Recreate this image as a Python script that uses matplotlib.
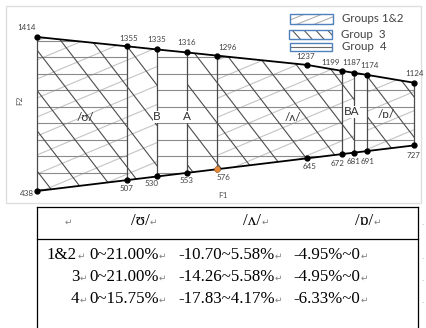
import numpy as np
import matplotlib.pyplot as plt
from matplotlib.patches import Polygon, Rectangle
from matplotlib.collections import LineCollection

# boundary values (Hz): F2 along the top edge, F1 along the bottom edge
f2_top = [1414, 1355, 1335, 1316, 1296, 1237, 1199, 1187, 1174, 1124]
f1_bot = [438, 507, 530, 553, 576, 645, 672, 681, 691, 727]
pos = [0, 3, 4, 5, 6, 9, 10.17, 10.57, 11, 12.57]
has_vline = [True, True, True, True, True, False, True, True, True, True]

# hatched spans (first index, last index into pos) for each group
spans_12 = [(0, 2), (4, 7), (8, 9)]
spans_3 = [(0, 2), (3, 7), (8, 9)]
spans_4 = [(0, 1), (2, 6), (7, 9)]

region_names = ['/ʊ/', 'B', 'A', '/ʌ/', 'BA', '/ɒ/']
legend_names = ['Groups 1&2', 'Group  3', 'Group  4']

# table
col_heads = ['', '/ʊ/', '/ʌ/', '/ɒ/']
groups = ['1&2', '3', '4']
u_range = ['0~21.00%', '0~21.00%', '0~15.75%']
a_range = ['-10.70~5.58%', '-14.26~5.58%', '-17.83~4.17%']
o_range = ['-4.95%~0', '-4.95%~0', '-6.33%~0']

sans = ['Lato', 'DejaVu Sans']
serif = ['Liberation Serif', 'DejaVu Serif', 'DejaVu Sans']

fig = plt.figure(figsize=(4.26, 3.28), dpi=100)
fig.patch.set_facecolor('white')

# overlay in pixel units for frame, table, legend and hatching
ov = fig.add_axes([0, 0, 1, 1])
ov.set_xlim(0, 426)
ov.set_ylim(328, 0)
ov.axis('off')

ax = fig.add_axes([25/426, 128/328, 395/426, 180/328])
ax.set_xlim(-0.4, 12.767)
ax.set_ylim(381, 1521.7)
ax.axis('off')


def region(i0, i1):
    top = [(pos[i], f2_top[i]) for i in range(i0, i1 + 1)]
    bot = [(pos[i], f1_bot[i]) for i in range(i1, i0 - 1, -1)]
    return Polygon(top + bot, closed=True, transform=ax.transData)


def hatch(clip, slope, step, anchor, color, lw=0.8):
    x0, y0 = anchor
    xa, xb = -60.0, 490.0
    segs = [[(xa, y0 + slope*(xa - x0) + k*step), (xb, y0 + slope*(xb - x0) + k*step)]
            for k in range(-40, 41)]
    lc = LineCollection(segs, colors=color, linewidths=lw)
    ov.add_collection(lc)
    lc.set_clip_path(clip)


for i0, i1 in spans_12:
    hatch(region(i0, i1), -0.42, 19, (37, 60), '#c4c4c4')
for i0, i1 in spans_4:
    hatch(region(i0, i1), 0, 16.5, (0, 57), '#8a8a8a')
for i0, i1 in spans_3:
    hatch(region(i0, i1), 1.3, 40.3, (37, 50), '#4d4d4d')

# vertical boundaries
vx = [p for p, v in zip(pos, has_vline) if v]
vb = [b for b, v in zip(f1_bot, has_vline) if v]
vt = [t for t, v in zip(f2_top, has_vline) if v]
ax.vlines(vx, vb, vt, color='#4a4a4a', lw=0.9, zorder=2)

ax.plot(pos, f2_top, color='black', lw=1.3, marker='o', ms=3.5, zorder=3)
ax.plot(pos, f1_bot, color='black', lw=1.3, marker='o', ms=3.5, zorder=3)
ax.plot(pos[4], f1_bot[4], 'o', color='#e58a3a', ms=3.5, zorder=4)

top_off = [(-10, 9), (2, 8), (0, 10), (0, 10), (11, 8), (-1, 8), (-12, 8), (-3, 10), (3, 9), (0, 9)]
bot_off = [(-10, -2), (0, -8), (-5, -7), (0, -8), (7, -8), (3, -8), (-5, -9), (-1, -9), (1, -10), (-1, -10)]
for p, v, o in zip(pos, f2_top, top_off):
    ax.annotate(str(v), (p, v), xytext=o, textcoords='offset pixels', ha='center', va='center',
                fontsize=5.8, color='#404040', family=sans)
for p, v, o in zip(pos, f1_bot, bot_off):
    ax.annotate(str(v), (p, v), xytext=o, textcoords='offset pixels', ha='center', va='center',
                fontsize=5.8, color='#404040', family=sans)

reg_x = [1.6, pos[2], pos[3], 8.53, 10.5, 11.63]
reg_y = [901, 907, 907, 901, 939, 920]
for name, x, y in zip(region_names, reg_x, reg_y):
    ax.text(x, y, name, ha='center', va='center', fontsize=8.5, color='#303030', family=sans,
            zorder=5, bbox=dict(fc='white', ec='none', pad=0.3) if len(name) <= 2 else None)

ov.text(20, 100, 'F2', rotation=90, ha='center', va='center', fontsize=6, color='#555555', family=sans)
ov.text(223, 195, 'F1', ha='center', va='center', fontsize=6, color='#555555', family=sans)

# chart frame
ov.add_patch(Rectangle((6, 6), 415, 197, fill=False, ec='#dedede', lw=1))

# legend
boxes = [(290, 14, 43, 10), (289, 30, 43, 9), (290, 43, 42, 8)]
for (bx, by, bw, bh), name in zip(boxes, legend_names):
    ov.add_patch(Rectangle((bx, by), bw, bh, fill=False, ec='#4f81bd', lw=1, zorder=3))
    ov.text(bx + 52, by + bh/2, name, ha='left', va='center', fontsize=8.3, color='#404040', family=sans)
legend_hatch = [(-0.4, 7, (290, 20), '#b0b0b0'), (1.1, 13, (292, 30), '#5a5a5a'), (0, 100, (0, 47), '#6a6a6a')]
for (bx, by, bw, bh), (sl, st, anc, col) in zip(boxes, legend_hatch):
    hatch(Rectangle((bx, by), bw, bh, transform=ov.transData), sl, st, anc, col)

# table
lk = dict(color='black', lw=0.9)
ov.plot([37, 37], [207, 330], **lk)
ov.plot([418, 418], [207, 330], **lk)
ov.plot([37, 418], [207, 207], **lk)
ov.plot([37, 418], [239, 239], **lk)

mark = dict(fontsize=6.5, color='#808080', family=['DejaVu Sans'], ha='left', va='center')


def cell(x, y, s, ha='left'):
    t = ov.text(x, y, s, ha=ha, va='center', fontsize=12.2, color='black', family=serif)
    ov.annotate('↵', xy=(1, 0.45), xycoords=t, xytext=(0.3, 0), textcoords='offset points', **mark)


ov.text(68, 222, '↵', ha='center', va='center', fontsize=6.5, color='#808080', family=['DejaVu Sans'])
for s, x in zip(col_heads[1:], [140, 252, 364]):
    cell(x, 221, s, ha='center')

row_y = [255, 277, 299]
g_x = [47, 71, 71]
for i in range(3):
    y = row_y[i]
    cell(g_x[i], y, groups[i])
    cell(89, y, u_range[i])
    cell(178, y, a_range[i])
    cell(293, y, o_range[i])
    ov.text(421, y + 2, '.', ha='left', va='center', fontsize=5, color='#9a9a9a')
ov.text(421, 223, '.', ha='left', va='center', fontsize=5, color='#9a9a9a')

fig.savefig('out.png', dpi=100, facecolor='white')
